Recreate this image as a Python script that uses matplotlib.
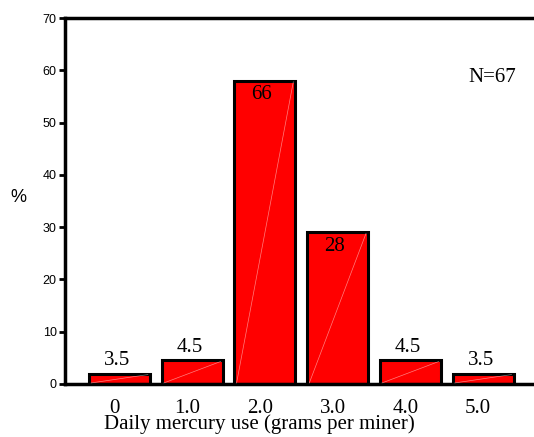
import numpy as np
import matplotlib.pyplot as plt

# data
tick_labels = ["0", "1.0", "2.0", "3.0", "4.0", "5.0"]
bar_heights = [2.0, 4.5, 58.0, 29.0, 4.5, 2.0]
bar_labels = ["3.5", "4.5", "66", "28", "4.5", "3.5"]

serif = ["Liberation Serif", "DejaVu Serif"]
sans = ["Liberation Sans", "DejaVu Sans"]

fig = plt.figure(figsize=(5.34, 4.37), dpi=100)
ax = fig.add_axes([0.1217, 0.1213, 0.8783, 0.8375])

x = np.arange(len(bar_heights))
w = 0.84
ax.bar(x, bar_heights, width=w, color="#ff0000", edgecolor="black", linewidth=2.2, zorder=2)

# faint diagonal streak across each bar
for xi, h in zip(x, bar_heights):
    ax.plot([xi - w / 2 + 0.03, xi + w / 2 - 0.03], [0.2, h - 0.2], color="white",
            lw=0.5, alpha=0.5, zorder=3)

# value labels: above small bars, inside tall ones
for xi, h, lab in zip(x, bar_heights, bar_labels):
    if h > 20:
        ax.text(xi - 0.05, h - 0.8, lab, ha="center", va="top", fontsize=15, family=serif, zorder=4)
    else:
        ax.text(xi - 0.03, h + 0.6, lab, ha="center", va="bottom", fontsize=15, family=serif, zorder=4)

ax.set_xlim(-0.75, 5.70)
ax.set_ylim(0, 70)
ax.set_yticks(np.arange(0, 71, 10))
ax.set_xticks(x - 0.07)
ax.set_xticklabels(tick_labels, family=serif, fontsize=15)
for lab in ax.get_yticklabels():
    lab.set_family(sans)
ax.tick_params(axis="y", labelsize=9, length=4, width=2, direction="out", pad=2)
ax.tick_params(axis="x", length=0, pad=11)

for s in ["left", "bottom", "top"]:
    ax.spines[s].set_linewidth(2.5)
ax.spines["right"].set_visible(False)

ax.set_xlabel("Daily mercury use (grams per miner)", family=serif, fontsize=15, va="center",
              bbox=dict(facecolor="white", edgecolor="none", pad=0))
ax.xaxis.set_label_coords(0.414, -0.109)
fig.text(18 / 534, 1 - 198 / 437, "%", family=sans, fontsize=13, ha="center", va="center")
ax.text(5.12, 58.6, "N=67", family=serif, fontsize=15, ha="center", va="center")

fig.savefig("out.png", dpi=100)
